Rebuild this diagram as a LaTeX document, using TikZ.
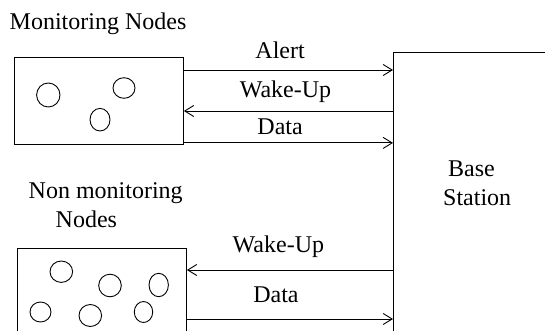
\documentclass[tikz,border=0pt]{standalone}
\usepackage{fontspec}
\setmainfont{Liberation Serif}
\usetikzlibrary{arrows.meta, positioning}

\begin{document}
\begin{tikzpicture}[
  x=1pt, y=-1pt,
  font=\fontsize{24}{28.5}\selectfont,
  box/.style={draw, line width=0.9pt, minimum width=169pt, anchor=north west, inner sep=0pt},
  txt/.style={anchor=base west, inner sep=0pt, align=left},
  lbl/.style={anchor=base, inner sep=0pt},
  arr/.style={-{Straight Barb[length=9pt, width=11pt]}, line width=0.9pt},
  dot/.style={line width=0.9pt}
]
\useasboundingbox (0,0) rectangle (545,331);
\clip (0,0) rectangle (545,331);

\node[box, minimum height=87pt] (mon) at (14,57) {};
\node[box, minimum height=120pt] (nonmon) at (17,248) {};
\node[box, minimum width=180pt, minimum height=300pt] (bs) at (393,52) {};

\node[txt] (montxt) at (9.5,30) {Monitoring Nodes};
\node[txt] (nonmontxt) at (28.5,227) {Non monitoring\\\hspace*{27pt}Nodes};
\node[txt] (bstxt) at (443,205) {\hspace*{5pt}Base\\Station};

\draw[dot] (48.3,95) ellipse [x radius=11.7pt, y radius=12pt];
\draw[dot] (124,88) ellipse [x radius=11pt, y radius=10.3pt];
\draw[dot] (100,119.7) ellipse [x radius=10pt, y radius=11.3pt];

\draw[dot] (61.3,271.7) ellipse [x radius=11.3pt, y radius=10.7pt];
\draw[dot] (110,285.5) ellipse [x radius=11.3pt, y radius=11.3pt];
\draw[dot] (158.7,285) ellipse [x radius=9.7pt, y radius=11.7pt];
\draw[dot] (40.5,312) ellipse [x radius=10.5pt, y radius=10pt];
\draw[dot] (90.3,315.5) ellipse [x radius=11.3pt, y radius=11pt];
\draw[dot] (143.5,312) ellipse [x radius=9.2pt, y radius=10.5pt];

\draw[arr] ([yshift=-13pt]mon.north east) -- ([yshift=-13pt]mon.north east -| bs.west)
  node[lbl, pos=0.46, yshift=11pt] {Alert};
\draw[arr] ([yshift=-54pt]mon.north east -| bs.west) -- ([yshift=-54pt]mon.north east)
  node[lbl, pos=0.514, yshift=13pt] {Wake-Up};
\draw[arr] ([yshift=2pt]mon.south east) -- ([yshift=2pt]mon.south east -| bs.west)
  node[lbl, pos=0.46, yshift=8pt] {Data};

\draw[arr] ([yshift=-22pt]nonmon.north east -| bs.west) -- ([yshift=-22pt]nonmon.north east)
  node[lbl, pos=0.556, yshift=18pt] {Wake-Up};
\draw[arr] ([yshift=-71pt]nonmon.north east) -- ([yshift=-71pt]nonmon.north east -| bs.west)
  node[lbl, pos=0.432, yshift=17pt] {Data};
\end{tikzpicture}
\end{document}
